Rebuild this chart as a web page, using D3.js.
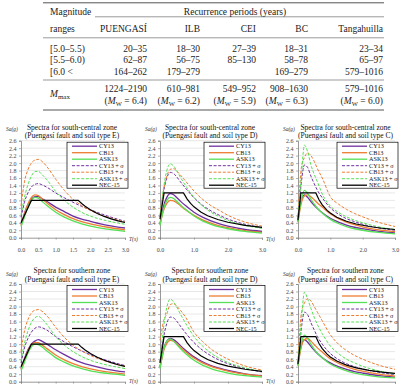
<!DOCTYPE html>
<html><head><meta charset="utf-8">
<script src="https://cdn.jsdelivr.net/npm/d3@7"></script>
<style>body{margin:0;background:#fff}svg{display:block}</style>
</head><body><svg id="c" width="401" height="385"></svg>
<script>
// ---------- table data ----------
const tableColumns = ["PUENGASÍ", "ILB", "CEI", "BC", "Tangahuilla"];
const magnitudeRanges = ["[5.0–5.5)", "[5.5–6.0)", "[6.0 <"];
const recurrenceRow1 = ["20–35", "18–30", "27–39", "18–31", "23–34"];
const recurrenceRow2 = ["62–87", "56–75", "85–130", "58–78", "65–97"];
const recurrenceRow3 = ["164–262", "179–279", "", "169–279", "579–1016"];
const mmaxPeriods = ["1224–2190", "610–981", "549–952", "908–1630", "579–1016"];
const mmaxMagnitudes = ["6.4", "6.2", "5.9", "6.3", "6.0"];

// ---------- spectra data ----------
const seriesNames = ["CY13", "CB13", "ASK13", "CY13 + σ", "CB13 + σ", "ASK13 + σ", "NEC-15"];
const periods = [0, 0.05, 0.1, 0.2, 0.3, 0.4, 0.5, 0.6, 0.75, 1.0, 1.25, 1.5, 1.75, 2.0, 2.5, 3.0];
const xTicksE = [0, 0.5, 1.0, 1.5, 2.0, 2.5, 3.0];
const xTicksDC = [0, 1.0, 2.0, 3.0];
const yTicks = [0, 0.2, 0.4, 0.6, 0.8, 1.0, 1.2, 1.4, 1.6, 1.8, 2.0, 2.2, 2.4, 2.6];

// south-central zone, soil E
const scE_CY13 = [0.36, 0.5, 0.65, 0.88, 1.03, 1.1, 1.1, 1.05, 0.97, 0.82, 0.7, 0.58, 0.5, 0.44, 0.33, 0.26];
const scE_CB13 = [0.33, 0.48, 0.64, 0.9, 1.08, 1.15, 1.13, 1.05, 0.93, 0.75, 0.62, 0.51, 0.43, 0.37, 0.28, 0.21];
const scE_ASK13 = [0.3, 0.42, 0.56, 0.82, 1.0, 1.08, 1.06, 0.98, 0.86, 0.68, 0.55, 0.45, 0.37, 0.31, 0.23, 0.17];
const scE_CY13s = [0.55, 0.75, 0.95, 1.2, 1.36, 1.43, 1.45, 1.42, 1.35, 1.2, 1.07, 0.95, 0.84, 0.75, 0.58, 0.44];
const scE_CB13s = [0.85, 1.2, 1.5, 1.82, 2.0, 2.08, 2.1, 2.05, 1.9, 1.57, 1.27, 1.03, 0.86, 0.73, 0.55, 0.42];
const scE_ASK13s = [0.6, 0.85, 1.08, 1.42, 1.65, 1.77, 1.78, 1.7, 1.55, 1.24, 1.0, 0.82, 0.68, 0.58, 0.45, 0.36];
// south-central zone, soil D
const scD_CY13 = [0.38, 0.6, 0.82, 1.08, 1.18, 1.15, 1.07, 0.98, 0.86, 0.68, 0.55, 0.45, 0.37, 0.31, 0.22, 0.17];
const scD_CB13 = [0.35, 0.55, 0.72, 0.92, 1.0, 0.99, 0.93, 0.86, 0.75, 0.6, 0.48, 0.39, 0.32, 0.27, 0.19, 0.14];
const scD_ASK13 = [0.33, 0.55, 0.75, 1.0, 1.08, 1.05, 0.97, 0.88, 0.76, 0.58, 0.45, 0.36, 0.29, 0.24, 0.17, 0.12];
const scD_CY13s = [0.55, 0.9, 1.2, 1.6, 1.75, 1.72, 1.62, 1.5, 1.33, 1.07, 0.87, 0.72, 0.6, 0.5, 0.36, 0.27];
const scD_CB13s = [0.6, 0.95, 1.25, 1.65, 1.83, 1.85, 1.78, 1.68, 1.52, 1.25, 1.03, 0.86, 0.73, 0.6, 0.42, 0.31];
const scD_ASK13s = [0.55, 0.95, 1.3, 1.8, 1.98, 1.92, 1.78, 1.62, 1.4, 1.08, 0.85, 0.68, 0.56, 0.46, 0.33, 0.25];
// south-central zone, soil C
const scC_CY13 = [0.45, 0.78, 1.0, 1.15, 1.08, 0.97, 0.87, 0.78, 0.67, 0.52, 0.42, 0.34, 0.28, 0.24, 0.17, 0.13];
const scC_CB13 = [0.42, 0.7, 0.92, 1.12, 1.15, 1.1, 1.02, 0.93, 0.82, 0.64, 0.51, 0.42, 0.35, 0.29, 0.21, 0.16];
const scC_ASK13 = [0.42, 0.75, 1.0, 1.27, 1.18, 1.03, 0.9, 0.79, 0.66, 0.49, 0.38, 0.3, 0.24, 0.2, 0.14, 0.1];
const scC_CY13s = [0.55, 1.0, 1.45, 1.95, 1.88, 1.65, 1.45, 1.27, 1.07, 0.8, 0.63, 0.51, 0.43, 0.36, 0.26, 0.2];
const scC_CB13s = [0.6, 1.3, 1.85, 2.15, 2.27, 2.2, 2.05, 1.85, 1.6, 1.1, 0.9, 0.76, 0.65, 0.56, 0.41, 0.3];
const scC_ASK13s = [0.5, 1.05, 1.6, 2.48, 2.3, 1.95, 1.7, 1.5, 1.17, 0.85, 0.68, 0.56, 0.47, 0.4, 0.29, 0.22];
// southern zone, soil E
const sE_CY13 = [0.35, 0.48, 0.62, 0.85, 1.0, 1.08, 1.12, 1.08, 1.0, 0.85, 0.72, 0.6, 0.51, 0.44, 0.33, 0.26];
const sE_CB13 = [0.33, 0.45, 0.58, 0.82, 0.98, 1.04, 1.04, 0.98, 0.88, 0.71, 0.58, 0.48, 0.4, 0.34, 0.26, 0.2];
const sE_ASK13 = [0.3, 0.4, 0.52, 0.76, 0.93, 1.0, 0.99, 0.93, 0.82, 0.64, 0.52, 0.42, 0.35, 0.29, 0.22, 0.17];
const sE_CY13s = [0.5, 0.7, 0.9, 1.15, 1.32, 1.42, 1.46, 1.44, 1.37, 1.2, 1.06, 0.93, 0.82, 0.72, 0.56, 0.43];
const sE_CB13s = [0.8, 1.1, 1.35, 1.65, 1.83, 1.9, 1.92, 1.88, 1.75, 1.45, 1.18, 0.97, 0.82, 0.7, 0.53, 0.41];
const sE_ASK13s = [0.55, 0.8, 1.02, 1.35, 1.58, 1.7, 1.74, 1.68, 1.52, 1.2, 0.97, 0.8, 0.67, 0.57, 0.44, 0.35];
// southern zone, soil D
const sD_CY13 = [0.4, 0.62, 0.85, 1.08, 1.15, 1.12, 1.05, 0.96, 0.84, 0.66, 0.53, 0.43, 0.36, 0.3, 0.21, 0.16];
const sD_CB13 = [0.38, 0.6, 0.8, 1.02, 1.1, 1.08, 1.0, 0.92, 0.8, 0.63, 0.5, 0.41, 0.34, 0.28, 0.2, 0.15];
const sD_ASK13 = [0.35, 0.6, 0.82, 1.08, 1.14, 1.08, 0.98, 0.88, 0.75, 0.57, 0.44, 0.35, 0.28, 0.23, 0.16, 0.12];
const sD_CY13s = [0.5, 0.85, 1.15, 1.55, 1.72, 1.7, 1.6, 1.48, 1.3, 1.04, 0.84, 0.69, 0.57, 0.48, 0.35, 0.26];
const sD_CB13s = [1.1, 1.35, 1.6, 1.8, 2.05, 2.08, 2.0, 1.9, 1.72, 1.32, 1.07, 0.87, 0.72, 0.6, 0.42, 0.31];
const sD_ASK13s = [0.55, 1.0, 1.4, 1.98, 2.2, 2.12, 1.97, 1.8, 1.56, 1.2, 0.95, 0.76, 0.62, 0.51, 0.37, 0.27];
// southern zone, soil C
const sC_CY13 = [0.45, 0.75, 0.97, 1.12, 1.05, 0.94, 0.84, 0.75, 0.64, 0.5, 0.4, 0.33, 0.27, 0.23, 0.16, 0.12];
const sC_CB13 = [0.42, 0.7, 0.92, 1.12, 1.15, 1.08, 0.99, 0.9, 0.79, 0.61, 0.49, 0.4, 0.33, 0.28, 0.2, 0.15];
const sC_ASK13 = [0.42, 0.75, 1.0, 1.24, 1.15, 1.0, 0.87, 0.76, 0.64, 0.47, 0.37, 0.29, 0.23, 0.19, 0.13, 0.1];
const sC_CY13s = [0.5, 0.95, 1.38, 1.85, 1.78, 1.57, 1.38, 1.2, 1.0, 0.75, 0.59, 0.48, 0.4, 0.34, 0.25, 0.19];
const sC_CB13s = [0.6, 1.3, 1.8, 2.1, 2.21, 2.15, 2.0, 1.85, 1.62, 1.25, 1.0, 0.83, 0.7, 0.6, 0.44, 0.33];
const sC_ASK13s = [0.5, 1.0, 1.55, 2.38, 2.2, 1.95, 1.72, 1.52, 1.28, 0.95, 0.75, 0.6, 0.5, 0.41, 0.29, 0.21];
// NEC-15 design spectra
const necE_T = [0, 0.3, 1.65, 1.75, 1.85, 2.0, 2.2, 2.4, 2.6, 2.8, 3.0];
const necE_Sa = [0.4, 1.0, 1.0, 0.915, 0.842, 0.749, 0.65, 0.57, 0.506, 0.452, 0.408];
const necD_T = [0, 0.12, 0.69, 0.8, 0.9, 1.0, 1.2, 1.4, 1.7, 2.0, 2.5, 3.0];
const necD_Sa = [0.5, 1.2, 1.2, 1.035, 0.92, 0.828, 0.69, 0.59, 0.487, 0.414, 0.331, 0.276];
const necC_T = [0, 0.09, 0.55, 0.65, 0.75, 0.9, 1.0, 1.2, 1.5, 1.8, 2.2, 2.6, 3.0];
const necC_Sa = [0.47, 1.2, 1.2, 1.015, 0.88, 0.733, 0.66, 0.55, 0.44, 0.367, 0.3, 0.254, 0.22];

const panels = [
  {title: "Spectra for south-central zone", soil: "E", col: 0, row: 0, xt: xTicksE, nT: necE_T, nS: necE_Sa,
   s: [scE_CY13, scE_CB13, scE_ASK13, scE_CY13s, scE_CB13s, scE_ASK13s]},
  {title: "Spectra for south-central zone", soil: "D", col: 1, row: 0, xt: xTicksDC, nT: necD_T, nS: necD_Sa,
   s: [scD_CY13, scD_CB13, scD_ASK13, scD_CY13s, scD_CB13s, scD_ASK13s]},
  {title: "Spectra for south-central zone", soil: "C", col: 2, row: 0, xt: xTicksDC, nT: necC_T, nS: necC_Sa,
   s: [scC_CY13, scC_CB13, scC_ASK13, scC_CY13s, scC_CB13s, scC_ASK13s]},
  {title: "Spectra for southern zone", soil: "E", col: 0, row: 1, xt: xTicksE, nT: necE_T, nS: necE_Sa,
   s: [sE_CY13, sE_CB13, sE_ASK13, sE_CY13s, sE_CB13s, sE_ASK13s]},
  {title: "Spectra for southern zone", soil: "D", col: 1, row: 1, xt: xTicksDC, nT: necD_T, nS: necD_Sa,
   s: [sD_CY13, sD_CB13, sD_ASK13, sD_CY13s, sD_CB13s, sD_ASK13s]},
  {title: "Spectra for southern zone", soil: "C", col: 2, row: 1, xt: xTicksDC, nT: necC_T, nS: necC_Sa,
   s: [sC_CY13, sC_CB13, sC_ASK13, sC_CY13s, sC_CB13s, sC_ASK13s]}
];

// ---------- layout / style ----------
const colX = [[21, 125], [160, 262], [298, 395]];
const rowY = [[140.7, 237.7], [284, 381.7]];
const colors = ["#7030a0", "#ed7d31", "#55e055", "#7030a0", "#ed7d31", "#55e055", "#000000"];
const serif = "'Liberation Serif','Times New Roman',serif";

const svg = d3.select("#c");
svg.append("rect").attr("width", 401).attr("height", 385).attr("fill", "#fff");

// ---------- table ----------
const tb = svg.append("g").attr("font-family", serif).attr("font-size", 9.5).attr("fill", "#222");
const rule = (x1, x2, y, w) => tb.append("line").attr("x1", x1).attr("x2", x2).attr("y1", y).attr("y2", y)
  .attr("stroke", "#555").attr("stroke-width", w);
rule(43, 384, 2.8, 1);
rule(95, 384, 16.8, 0.6);
rule(43, 384, 37.8, 0.6);
rule(43, 384, 80, 0.6);
rule(43, 384, 110, 1);
const colRight = [147, 200, 256, 308, 383];
tb.append("text").attr("x", 50).attr("y", 14.5).text("Magnitude");
tb.append("text").attr("x", 235).attr("y", 14.5).attr("text-anchor", "middle").text("Recurrence periods (years)");
tb.append("text").attr("x", 50).attr("y", 31.5).text("ranges");
tableColumns.forEach((c, i) => tb.append("text").attr("x", colRight[i]).attr("y", 31.5).attr("text-anchor", "end").text(c));
magnitudeRanges.forEach((m, r) => tb.append("text").attr("x", 50).attr("y", 51.5 + r * 11.5).text(m));
[recurrenceRow1, recurrenceRow2, recurrenceRow3].forEach((row, r) => row.forEach((v, i) =>
  tb.append("text").attr("x", colRight[i]).attr("y", 51.5 + r * 11.5).attr("text-anchor", "end").text(v)));
const mm = tb.append("text").attr("x", 50).attr("y", 96.5);
mm.append("tspan").attr("font-style", "italic").text("M");
mm.append("tspan").attr("font-size", 7).attr("dy", 2).text("max");
mmaxPeriods.forEach((v, i) => tb.append("text").attr("x", colRight[i]).attr("y", 92).attr("text-anchor", "end").text(v));
mmaxMagnitudes.forEach((v, i) => {
  const t = tb.append("text").attr("x", colRight[i]).attr("y", 104).attr("text-anchor", "end");
  t.append("tspan").text("(");
  t.append("tspan").attr("font-style", "italic").text("M");
  t.append("tspan").attr("font-size", 6.5).attr("dy", 1.8).text("W");
  t.append("tspan").attr("dy", -1.8).text(" = " + v + ")");
});

// ---------- panels ----------
panels.forEach(p => {
  const [x0, x1] = colX[p.col];
  const [y0, y1] = rowY[p.row];
  const x = d3.scaleLinear().domain([0, 3]).range([x0, x1]);
  const y = d3.scaleLinear().domain([0, 2.6]).range([y1, y0]);
  const g = svg.append("g").attr("font-family", serif);

  // gridlines
  g.append("g").selectAll("line").data(yTicks.slice(1)).join("line")
    .attr("x1", x0).attr("x2", x1).attr("y1", d => y(d)).attr("y2", d => y(d))
    .attr("stroke", "#d9d9d9").attr("stroke-width", 0.6);

  // axes
  const ya = g.append("g").attr("transform", `translate(${x0},0)`)
    .call(d3.axisLeft(y).tickValues(yTicks).tickFormat(d3.format(".1f")).tickSize(2).tickPadding(2.5));
  const xa = g.append("g").attr("transform", `translate(0,${y1})`)
    .call(d3.axisBottom(x).tickValues(p.xt).tickFormat(p.row === 0 ? d3.format(".1f") : () => "")
      .tickSize(2).tickPadding(8));
  [ya, xa].forEach(a => {
    a.select(".domain").attr("stroke", "#7f7f7f").attr("stroke-width", 0.8);
    a.selectAll(".tick line").attr("stroke", "#7f7f7f").attr("stroke-width", 0.6);
    a.selectAll("text").attr("font-family", serif).attr("font-size", 6).attr("fill", "#444");
  });

  // labels
  g.append("text").attr("x", x0 - 15).attr("y", p.row ? 276 : 130.5).attr("font-size", 5.5)
    .attr("font-style", "italic").attr("fill", "#333").text("Sa(g)");
  if (p.col < 2) {
    g.append("text").attr("x", x1 + 4).attr("y", Math.min(y1 + 3, 383.3)).attr("font-size", 5.5)
      .attr("font-style", "italic").attr("fill", "#333").text("T(s)");
  }
  const cx = (x0 + x1) / 2 - 1;
  g.append("text").attr("x", cx).attr("y", y0 - 11).attr("text-anchor", "middle").attr("font-size", 7.5)
    .attr("fill", "#111").text(p.title);
  g.append("text").attr("x", cx).attr("y", y0 - 2.5).attr("text-anchor", "middle").attr("font-size", 7.5)
    .attr("fill", "#111").text(`(Puengasí fault and soil type ${p.soil})`);

  // curves
  const line = d3.line().x(d => x(d[0])).y(d => y(d[1])).curve(d3.curveMonotoneX);
  const order = [3, 4, 5, 0, 1, 2];
  order.forEach(i => {
    const pts = periods.map((t, k) => [t, p.s[i][k]]);
    g.append("path").attr("d", line(pts)).attr("fill", "none").attr("stroke", colors[i])
      .attr("stroke-width", i < 3 ? 1.3 : 1).attr("stroke-dasharray", i < 3 ? null : "3,1.6");
  });
  const nline = d3.line().x(d => x(d[0])).y(d => y(d[1]));
  g.append("path").attr("d", nline(p.nT.map((t, k) => [t, p.nS[k]]))).attr("fill", "none")
    .attr("stroke", "#000").attr("stroke-width", 1.2);

  // legend
  const lx = x1 - 58, ly = y0 + 1.5;
  const lg = g.append("g");
  lg.append("rect").attr("x", lx).attr("y", ly).attr("width", 61).attr("height", 46)
    .attr("fill", "#fff").attr("stroke", "#000").attr("stroke-width", 0.7);
  seriesNames.forEach((n, i) => {
    const yy = ly + 4 + i * 6.5;
    lg.append("line").attr("x1", lx + 5).attr("x2", lx + 30).attr("y1", yy).attr("y2", yy)
      .attr("stroke", colors[i]).attr("stroke-width", (i < 3 || i === 6) ? 1.3 : 1)
      .attr("stroke-dasharray", (i >= 3 && i < 6) ? "3,1.6" : null);
    lg.append("text").attr("x", lx + 32).attr("y", yy + 2).attr("font-size", 6.2).attr("fill", "#111").text(n);
  });
});
</script></body></html>
